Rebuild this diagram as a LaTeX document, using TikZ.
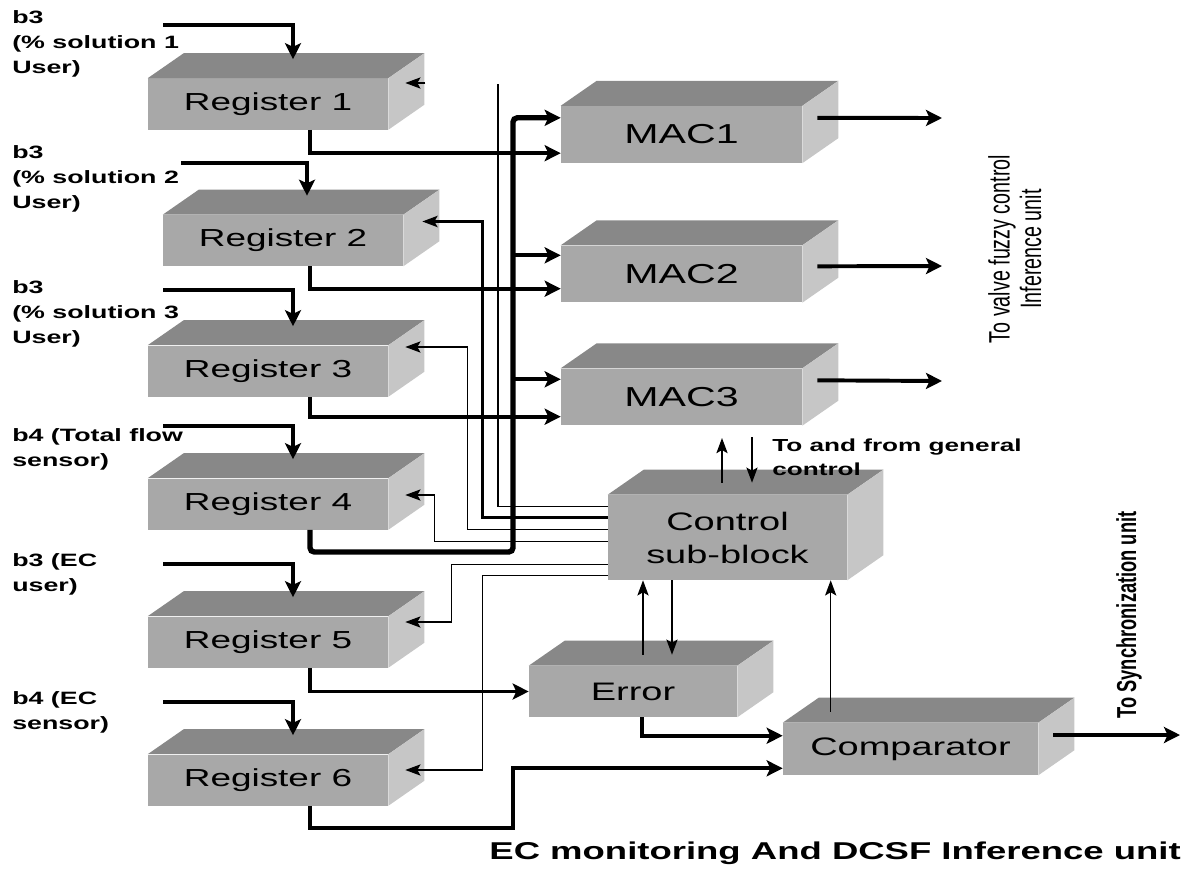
\documentclass[tikz,border=0pt]{standalone}
\usepackage{fontspec}
\setmainfont{Liberation Sans}
\newfontfamily\widesans[FakeStretch=1.5]{Liberation Sans}
\usepackage{tikz}
\newcommand{\regwidth}{6cm}
\newcommand{\regheight}{1.275cm}
\newcommand{\macwidth}{6.025cm}
\newcommand{\macheight}{1.42cm}
\newcommand{\depthx}{36}
\newcommand{\depthy}{-25}
\definecolor{frontGray}{RGB}{168,168,168}
\definecolor{topGray}{RGB}{136,136,136}
\definecolor{sideGray}{RGB}{198,198,198}
\usetikzlibrary{arrows.meta,calc}
\tikzset{
  block/.style={shape=rectangle,fill=frontGray,inner sep=0,align=center,font=\widesans\fontsize{18}{23.4}\selectfont},
  reg/.style={block,minimum width=\regwidth,minimum height=\regheight,font=\widesans\fontsize{17.5}{21}\selectfont},
  mac/.style={block,minimum width=\macwidth,minimum height=\macheight,font=\widesans\fontsize{19.5}{23}\selectfont},
  inlabel/.style={anchor=north west,inner sep=0,align=left,font=\widesans\bfseries\fontsize{12.7}{17.7}\selectfont},
  line/.style={draw,line width=2.8pt},
  bus/.style={draw,line width=3.8pt,rounded corners=3pt},
  wire/.style={draw,line width=1.1pt},
  arr/.style={-{Stealth[length=4mm,width=4mm,inset=0.9mm]}},
  warr/.style={-{Stealth[length=3.8mm,width=2.8mm,inset=0.8mm]}},
}

\begin{document}
\begin{tikzpicture}[x=0.025cm,y=-0.025cm]
  \useasboundingbox (0,0) rectangle (1184,869);
  % registers
  \node (r1) [reg] at (268,104) {Register 1};
  \node (r2) [reg] at (283,240.5) {Register 2};
  \node (r3) [reg] at (268,371) {Register 3};
  \node (r4) [reg] at (268,504) {Register 4};
  \node (r5) [reg] at (268,642) {Register 5};
  \node (r6) [reg] at (268,780) {Register 6};
  % MAC units
  \node (mac1) [mac] at (681.5,134.5) {MAC1};
  \node (mac2) [mac] at (681.5,274) {MAC2};
  \node (mac3) [mac] at (681.5,397) {MAC3};
  \node (ctrl) [block,minimum width=5.975cm,minimum height=2.125cm] at (727.5,537.5) {Control\\sub-block};
  \node (err) [block,minimum width=5.2cm,minimum height=\regheight] at (633,691.5) {Error};
  \node (cmp) [block,minimum width=6.375cm,minimum height=1.3cm] at (910.5,749) {Comparator};
  % 3d faces
  \foreach \n in {r1,r2,r3,r4,r5,r6,mac1,mac2,mac3,ctrl,err,cmp}{
    \fill[topGray] (\n.north west) -- ++(\depthx,\depthy) -- ($(\n.north east)+(\depthx,\depthy)$) -- (\n.north east) -- cycle;
    \fill[sideGray] (\n.north east) -- ++(\depthx,\depthy) -- ($(\n.south east)+(\depthx,\depthy)$) -- (\n.south east) -- cycle;
  }
  % input labels
  \node (lab1) [inlabel] at (12,10) {b3\\(\% solution 1\\User)};
  \node (lab2) [inlabel] at (12,145) {b3\\(\% solution 2\\User)};
  \node (lab3) [inlabel] at (12,280) {b3\\(\% solution 3\\User)};
  \node (lab4) [inlabel] at (12,428) {b4 (Total flow\\sensor)};
  \node (lab5) [inlabel] at (12,553) {b3 (EC\\user)};
  \node (lab6) [inlabel] at (12,691) {b4 (EC\\sensor)};
  % inputs
  \coordinate (in1) at (163,25);
  \coordinate (in2) at (181,163);
  \coordinate (in3) at (163,290);
  \coordinate (in4) at (163,426);
  \coordinate (in5) at (163,564);
  \coordinate (in6) at (163,702);
  \draw[line,arr] (in1) -| ($(r1.north)+(25,-19)$);
  \draw[line,arr] (in2) -| ($(r2.north)+(24,-19)$);
  \draw[line,arr] (in3) -| ($(r3.north)+(25,-19)$);
  \draw[line,arr] (in4) -| ($(r4.north)+(25,-19)$);
  \draw[line,arr] (in5) -| ($(r5.north)+(25,-19)$);
  \draw[line,arr] (in6) -| ($(r6.north)+(25,-19)$);
  % register outputs
  \draw[line,arr] ($(r1.south)+(42,0)$) |- ($(mac1.south west)+(0,-10)$);
  \draw[line,arr] ($(r2.south)+(27,0)$) |- ($(mac2.south west)+(0,-14)$);
  \draw[line,arr] ($(r3.south)+(42,0)$) |- ($(mac3.south west)+(0,-9)$);
  \coordinate (busfoot) at (513,552);
  \coordinate (mac2in) at ($(mac2.north west)+(0,10)$);
  \coordinate (mac3in) at ($(mac3.north west)+(0,11)$);
  \draw[bus,arr] ($(r4.south)+(42,0)$) |- (busfoot) |- ($(mac1.north west)+(0,12)$);
  \draw[line,arr] (busfoot |- mac2in) -- (mac2in);
  \draw[line,arr] (busfoot |- mac3in) -- (mac3in);
  \draw[line,arr] ($(r5.south)+(42,0)$) |- (err.west);
  \coordinate (r6bend) at (513,828);
  \draw[line,arr] ($(r6.south)+(42,0)$) |- (r6bend) |- ($(cmp.south west)+(0,-7)$);
  \draw[line,arr] ($(err.south)+(9,0)$) |- ($(cmp.north west)+(0,13)$);
  % outputs
  \coordinate (out1) at (942,118);
  \coordinate (out2) at (942,266);
  \coordinate (out3) at (942,381);
  \coordinate (syncout) at (1180,735);
  \draw[line,arr] ($(mac1.north east)+(15,12)$) -- (out1);
  \draw[line,arr] ($(mac2.north east)+(15,21)$) -- (out2);
  \draw[line,arr] ($(mac3.north east)+(15,12)$) -- (out3);
  \draw[line,arr] ($(cmp.east)+(15,-14)$) -- (syncout);
  % control wires
  \coordinate (r1wire) at (498,84);
  \draw[wire] ($(ctrl.north west)+(0,12)$) -| (r1wire);
  \draw[wire,warr] ($(r1.east)+(37,-21)$) -- ($(r1.east)+(17,-21)$);
  \draw[wire,line width=1.8pt,warr] ($(ctrl.north west)+(0,23)$) -| ($(r2.east)+(79,-19)$) -- ($(r2.east)+(19,-19)$);
  \draw[wire,warr] ($(ctrl.north west)+(0,35)$) -| ($(r3.east)+(79,-24)$) -- ($(r3.east)+(17,-24)$);
  \draw[wire,warr] ($(ctrl.north west)+(0,47)$) -| ($(r4.east)+(46,-9)$) -- ($(r4.east)+(17,-9)$);
  \draw[wire,warr] ($(ctrl.north west)+(0,70)$) -| ($(r5.east)+(63,-20)$) -- ($(r5.east)+(17,-20)$);
  \draw[wire,warr] ($(ctrl.north west)+(0,81)$) -| ($(r6.east)+(94,-10)$) -- ($(r6.east)+(17,-10)$);
  \coordinate (e2c) at ($(err.north)+(10,-11)$);
  \coordinate (c2e) at ($(err.north)+(39,-11)$);
  \coordinate (m2c) at ($(cmp.north west)+(48,-11)$);
  \draw[wire,warr] (e2c) -- (e2c |- ctrl.south);
  \draw[wire,warr] (c2e |- ctrl.south) -- (c2e);
  \draw[wire,warr] (m2c) -- (m2c |- ctrl.south);
  \coordinate (genup) at (722,438);
  \coordinate (gendown) at (752,437);
  \draw[wire,warr] ($(ctrl.north)+(-5.5,-12)$) -- (genup);
  \draw[wire,warr] (gendown) -- ($(ctrl.north)+(24.5,-12)$);
  % texts
  \node (gen) [anchor=north west,inner sep=0,align=left,font=\widesans\bfseries\fontsize{12.4}{17}\selectfont] at (772,439) {To and from general\\control};
  \node (valve) [rotate=90,inner sep=0,font=\fontsize{14}{15}\selectfont] at (1019,249) {\scalebox{1}[1.5]{\begin{tabular}{@{}c@{}}To valve fuzzy control\\Inference unit\end{tabular}}};
  \node (sync) [rotate=90,inner sep=0,font=\bfseries\fontsize{13}{15}\selectfont] at (1129,615) {\scalebox{1}[1.5]{To Synchronization unit}};
  \node (title) [anchor=base east,inner sep=0,font=\widesans\bfseries\fontsize{17.3}{20}\selectfont] at (1181,859) {EC monitoring And DCSF Inference unit};
\end{tikzpicture}
\end{document}
